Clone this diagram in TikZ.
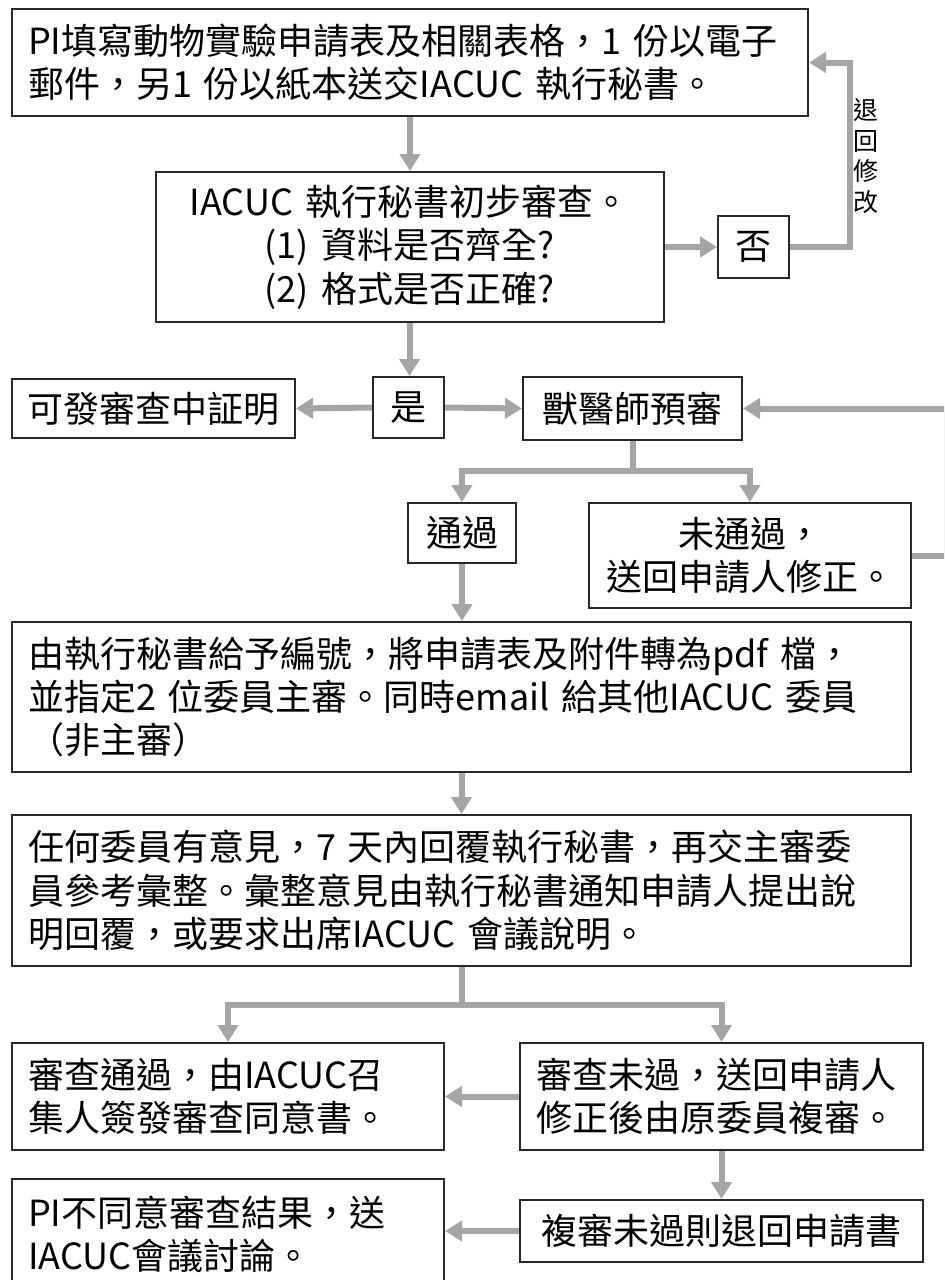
\documentclass[tikz,border=0pt]{standalone}
\usepackage{fontspec}
\setmainfont{Noto Sans CJK TC}
\usetikzlibrary{arrows.meta}
\definecolor{flowgray}{RGB}{165,165,165}
\definecolor{boxline}{RGB}{40,40,40}
\tikzset{
	stepbox/.style={draw=boxline, line width=1pt, inner xsep=8pt, inner ysep=0pt, font=\fontsize{18}{21.7}\selectfont},
	flow/.style={draw=flowgray, line width=3pt, -{Triangle[width=10pt,length=8.5pt]}}
}
\begin{document}
\begin{tikzpicture}[x=0.5pt, y=-0.5pt]
			\clip (0,0) rectangle (944,1280);
			\fill[white] (0,0) rectangle (944,1280);
			\node[stepbox, text width=382pt, align=left, minimum height=53.5pt] (pi) at (410,62.5) {PI填寫動物實驗申請表及相關表格，1 份以電子\\郵件，另1 份以紙本送交IACUC 執行秘書。};
			\node[stepbox, text width=238pt, align=center, minimum height=75pt] (sec) at (409.5,247) {IACUC 執行秘書初步審查。\\(1) 資料是否齊全?\\(2) 格式是否正確?};
			\node[stepbox, minimum width=35.5pt, minimum height=31pt, inner xsep=0pt] (no) at (753.5,247) {否};
			\node[stepbox, minimum width=141.5pt, minimum height=29.5pt, inner xsep=0pt] (cert) at (153.5,408.5) {可發審查中証明};
			\node[stepbox, minimum width=35.5pt, minimum height=30.5pt, inner xsep=0pt] (yes) at (408.5,407.5) {是};
			\node[stepbox, minimum width=109.5pt, minimum height=31.5pt, inner xsep=0pt] (vet) at (632.5,408.5) {獸醫師預審};
			\node[stepbox, minimum width=54pt, minimum height=30pt, inner xsep=0pt] (pass) at (462,533) {通過};
			\node[stepbox, text width=145pt, align=center, minimum height=52.5pt] (fail) at (750,555.5) {未通過，\\送回申請人修正。};
			\node[stepbox, text width=433.5pt, align=left, minimum height=75pt] (notify) at (461.5,697) {由執行秘書給予編號，將申請表及附件轉為pdf  檔，\\並指定2 位委員主審。同時email  給其他IACUC 委員\\（非主審）};
			\node[stepbox, text width=433.5pt, align=left, minimum height=75.5pt] (comment) at (461.5,890.5) {任何委員有意見，7 天內回覆執行秘書，再交主審委\\員參考彙整。彙整意見由執行秘書通知申請人提出說\\明回覆，或要求出席IACUC 會議說明。};
			\node[stepbox, text width=200pt, align=left, minimum height=53.5pt] (approve) at (228,1096.5) {審查通過，由IACUC召\\集人簽發審查同意書。};
			\node[stepbox, text width=185.5pt, align=left, minimum height=53.5pt] (revise) at (721.5,1096.5) {審查未過，送回申請人\\修正後由原委員複審。};
			\node[stepbox, text width=200pt, align=left, minimum height=55.5pt] (dispute) at (228,1234.5) {PI不同意審查結果，送\\IACUC會議討論。};
			\node[stepbox, minimum width=201.5pt, minimum height=31pt, inner xsep=0pt] (reject) at (721.5,1231) {複審未過則退回申請書};
			\draw[flow] (pi.south) -- (pi.south |- sec.north);
			\draw[flow] (sec.east) -- (no.west);
			\draw[flow] (no.east) -- ++(60,0) coordinate (back) |- (pi.east);
			\node[font=\fontsize{12.5}{15.2}\selectfont, align=center, inner sep=0pt] (backlabel) at (866,156) {退\\回\\修\\改};
			\draw[flow] (sec.south) -- (sec.south |- yes.north);
			\draw[flow] (yes.west) -- (cert.east);
			\draw[flow] (yes.east) -- (vet.west);
			\draw[flow] (vet.south) -- ++(0,30) coordinate (vetsplit) -| (pass.north);
			\draw[flow] (vetsplit) -| (fail.north);
			\draw[flow] (fail.east) -- ++(35,0) coordinate (edge) |- (vet.east);
			\draw[flow] (pass.south) -- (pass.south |- notify.north);
			\draw[flow] (notify.south) -- (notify.south |- comment.north);
			\draw[flow] (comment.south) -- ++(0,38) coordinate (split) -| (approve.north);
			\draw[flow] (split) -| (revise.north);
			\draw[flow] (revise.west) -- (approve.east);
			\draw[flow] (revise.south) -- (reject.north);
			\draw[flow] (reject.west) -- (reject.west -| dispute.east);
		\end{tikzpicture}
\end{document}
